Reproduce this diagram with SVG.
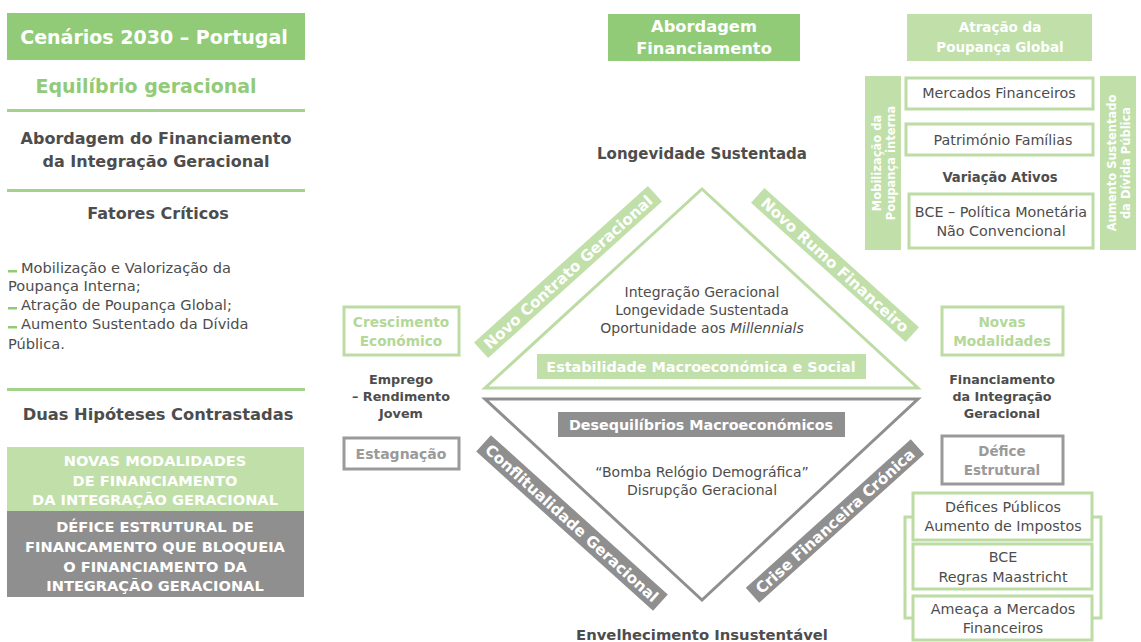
<svg xmlns="http://www.w3.org/2000/svg" width="1141" height="642" viewBox="0 0 1141 642">
  <style>
    text { font-family: "DejaVu Sans", "Liberation Sans", sans-serif; text-anchor: middle; }
    .dark { fill: #4d4d4d; }
    .b { font-weight: 700; }
    .w { fill: #ffffff; }
    .gfill { fill: #92cb77; }
    .lgfill { fill: #c0dfa9; }
    .grfill { fill: #8f8f90; }
    .gline { stroke: #a3d28a; stroke-width: 3; }
    .lgbox { fill: #ffffff; stroke: #bcdca4; stroke-width: 3; }
    .grbox { fill: #ffffff; stroke: #9a9a9a; stroke-width: 3; }
    .band { font-size: 15.2px; font-weight: 700; fill: #ffffff; }
    .reg { font-size: 14.3px; fill: #4d4d4d; }
    .mid { font-size: 14px; fill: #4d4d4d; }
    .hyp { font-size: 14.6px; font-weight: 700; fill: #ffffff; }
    .lg { fill: #b3d899; font-weight: 700; }
    .gr { fill: #9a9a9a; font-weight: 700; }
    .start { text-anchor: start; }
  </style>

  <!-- left column -->
  <g id="left-panel">
    <rect class="gfill" x="7" y="13" width="298" height="47"/>
    <text class="w b" x="154" y="44" font-size="19">Cenários 2030 – Portugal</text>
    <text class="b" x="146" y="93" font-size="19" fill="#92cb77">Equilíbrio geracional</text>
    <line class="gline" x1="7" y1="110.5" x2="305" y2="110.5"/>
    <text class="dark b" x="156" y="144" font-size="16">Abordagem do Financiamento</text>
    <text class="dark b" x="156" y="167" font-size="16">da Integração Geracional</text>
    <line class="gline" x1="7" y1="190.5" x2="305" y2="190.5"/>
    <text class="dark b" x="158" y="219" font-size="16">Fatores Críticos</text>
    <g font-size="14.6" fill="#4d4d4d">
      <rect x="8" y="270" width="9" height="2.5" fill="#92cb77"/>
      <text class="start" x="21" y="273">Mobilização e Valorização da</text>
      <text class="start" x="8" y="291">Poupança Interna;</text>
      <rect x="8" y="307" width="9" height="2.5" fill="#92cb77"/>
      <text class="start" x="21" y="310">Atração de Poupança Global;</text>
      <rect x="8" y="326" width="9" height="2.5" fill="#92cb77"/>
      <text class="start" x="21" y="329">Aumento Sustentado da Dívida</text>
      <text class="start" x="8" y="349">Pública.</text>
    </g>
    <line class="gline" x1="7" y1="389.5" x2="305" y2="389.5"/>
    <text class="dark b" x="158" y="420" font-size="16.3">Duas Hipóteses Contrastadas</text>
  </g>

  <g id="hypothesis-green">
    <rect class="lgfill" x="7" y="447" width="297" height="64"/>
    <text class="hyp" x="155" y="466">NOVAS MODALIDADES</text>
    <text class="hyp" x="155" y="486">DE FINANCIAMENTO</text>
    <text class="hyp" x="155" y="505">DA INTEGRAÇÃO GERACIONAL</text>
  </g>
  <g id="hypothesis-grey">
    <rect class="grfill" x="7" y="511" width="297" height="86"/>
    <text class="hyp" x="155" y="532">DÉFICE ESTRUTURAL DE</text>
    <text class="hyp" x="155" y="552">FINANCAMENTO QUE BLOQUEIA</text>
    <text class="hyp" x="155" y="572">O FINANCIAMENTO DA</text>
    <text class="hyp" x="155" y="591">INTEGRAÇÃO GERACIONAL</text>
  </g>

  <!-- header boxes -->
  <g id="abordagem-financiamento">
    <rect class="gfill" x="608" y="14" width="192" height="47"/>
    <text class="w b" x="704" y="32" font-size="16.3">Abordagem</text>
    <text class="w b" x="704" y="54" font-size="16.3">Financiamento</text>
  </g>
  <g id="atracao-poupanca">
    <rect class="lgfill" x="907" y="14" width="185" height="47"/>
    <text class="w b" x="1000" y="32" font-size="13.5">Atração da</text>
    <text class="w b" x="1000" y="52" font-size="13.5">Poupança Global</text>
  </g>

  <!-- upper right stack -->
  <g id="mobilizacao">
    <rect class="lgfill" x="865" y="76" width="36" height="174"/>
    <text class="w b" font-size="11.5" transform="translate(881 163) rotate(-90)">Mobilização da</text>
    <text class="w b" font-size="11.5" transform="translate(895 163) rotate(-90)">Poupança interna</text>
  </g>
  <g id="aumento-divida">
    <rect class="lgfill" x="1100" y="76" width="36" height="174"/>
    <text class="w b" font-size="11.5" transform="translate(1116 163) rotate(-90)">Aumento Sustentado</text>
    <text class="w b" font-size="11.5" transform="translate(1130 163) rotate(-90)">da Dívida Pública</text>
  </g>
  <g id="mercados-financeiros">
    <rect class="lgbox" x="906" y="78" width="187" height="31"/>
    <text class="reg" x="999" y="98">Mercados Financeiros</text>
  </g>
  <g id="patrimonio-familias">
    <rect class="lgbox" x="906" y="124" width="187" height="31"/>
    <text class="reg" x="1003" y="145">Património Famílias</text>
  </g>
  <g id="variacao-ativos">
    <text class="dark b" x="1000" y="182" font-size="13.2">Variação Ativos</text>
  </g>
  <g id="bce-politica">
    <rect class="lgbox" x="909" y="194" width="184" height="54"/>
    <text class="reg" x="1001" y="217">BCE – Política Monetária</text>
    <text class="reg" x="1001" y="236">Não Convencional</text>
  </g>

  <!-- side boxes -->
  <g id="crescimento">
    <rect x="344" y="307" width="115" height="48" fill="#ffffff" stroke="#bcdca4" stroke-width="3"/>
    <text class="lg" x="401" y="327" font-size="13.7">Crescimento</text>
    <text class="lg" x="401" y="346" font-size="13.7">Económico</text>
  </g>
  <g id="emprego">
    <text class="dark b" x="401" y="384" font-size="12.8">Emprego</text>
    <text class="dark b" x="401" y="401" font-size="12.8">– Rendimento</text>
    <text class="dark b" x="401" y="418" font-size="12.8">Jovem</text>
  </g>
  <g id="estagnacao">
    <rect class="grbox" x="344" y="438" width="115" height="31"/>
    <text class="gr" x="401" y="459" font-size="14">Estagnação</text>
  </g>
  <g id="novas-modalidades">
    <rect x="942" y="307" width="121" height="48" fill="#ffffff" stroke="#bcdca4" stroke-width="3"/>
    <text class="lg" x="1002" y="327" font-size="13.7">Novas</text>
    <text class="lg" x="1002" y="346" font-size="13.7">Modalidades</text>
  </g>
  <g id="financiamento-integracao">
    <text class="dark b" x="1002" y="384" font-size="12.7">Financiamento</text>
    <text class="dark b" x="1002" y="401" font-size="12.7">da Integração</text>
    <text class="dark b" x="1002" y="418" font-size="12.7">Geracional</text>
  </g>
  <g id="defice-estrutural">
    <rect class="grbox" x="942" y="436" width="121" height="48"/>
    <text class="gr" x="1002" y="456" font-size="13.5">Défice</text>
    <text class="gr" x="1002" y="475" font-size="13.5">Estrutural</text>
  </g>

  <!-- lower right stack -->
  <g id="lower-right-stack">
    <rect x="905" y="517" width="196" height="101" fill="none" stroke="#bcdca4" stroke-width="3"/>
    <rect class="lgbox" x="913" y="493" width="179" height="47"/>
    <text class="reg" x="1003" y="512">Défices Públicos</text>
    <text class="reg" x="1003" y="531">Aumento de Impostos</text>
    <rect class="lgbox" x="913" y="544" width="179" height="45"/>
    <text class="reg" x="1003" y="562">BCE</text>
    <text class="reg" x="1003" y="582">Regras Maastricht</text>
    <rect class="lgbox" x="913" y="596" width="179" height="44"/>
    <text class="reg" x="1003" y="614">Ameaça a Mercados</text>
    <text class="reg" x="1003" y="633">Financeiros</text>
  </g>

  <!-- diamond outline -->
  <g id="connectors" fill="none" stroke-width="3" stroke-linejoin="miter">
    <polygon points="702,189 918,388 485,388" stroke="#bcdca4"/>
    <polygon points="485,399 918,399 702,600" stroke="#8f8f90"/>
  </g>

  <!-- diamond interior -->
  <g id="longevidade">
    <text class="dark b" x="702" y="159" font-size="15">Longevidade Sustentada</text>
  </g>
  <g id="integracao-texts">
    <text class="mid" x="702" y="297">Integração Geracional</text>
    <text class="mid" x="702" y="315">Longevidade Sustentada</text>
    <text class="mid" x="702" y="333">Oportunidade aos <tspan font-style="italic">Millennials</tspan></text>
  </g>
  <g id="estabilidade">
    <rect class="lgfill" x="537" y="354" width="329" height="25"/>
    <text class="w b" x="701" y="372" font-size="14.4">Estabilidade Macroeconómica e Social</text>
  </g>
  <g id="desequilibrios">
    <rect class="grfill" x="558" y="412" width="287" height="25"/>
    <text class="w b" x="701" y="430" font-size="14.3">Desequilíbrios Macroeconómicos</text>
  </g>
  <g id="bomba-relogio">
    <text class="mid" x="702" y="477">“Bomba Relógio Demográfica”</text>
    <text class="mid" x="702" y="495">Disrupção Geracional</text>
  </g>
  <g id="envelhecimento">
    <text class="dark b" x="702" y="640" font-size="14.8">Envelhecimento Insustentável</text>
  </g>

  <!-- diagonal bands -->
  <g id="novo-contrato" transform="translate(568 272) rotate(-42)">
    <rect class="lgfill" x="-117" y="-10.5" width="234" height="21"/>
    <text class="band" x="0" y="5.6">Novo Contrato Geracional</text>
  </g>
  <g id="novo-rumo" transform="translate(835 265) rotate(42)">
    <rect class="lgfill" x="-104" y="-10" width="208" height="20"/>
    <text class="band" x="0" y="5.5">Novo Rumo Financeiro</text>
  </g>
  <g id="conflitualidade" transform="translate(572 523) rotate(42)">
    <rect class="grfill" x="-119" y="-11" width="238" height="22"/>
    <text class="band" x="0" y="5.6">Conflitualidade Geracional</text>
  </g>
  <g id="crise-financeira" transform="translate(835 521) rotate(-42)">
    <rect class="grfill" x="-111" y="-10" width="222" height="20"/>
    <text class="band" x="0" y="5.5">Crise Financeira Crónica</text>
  </g>
</svg>
